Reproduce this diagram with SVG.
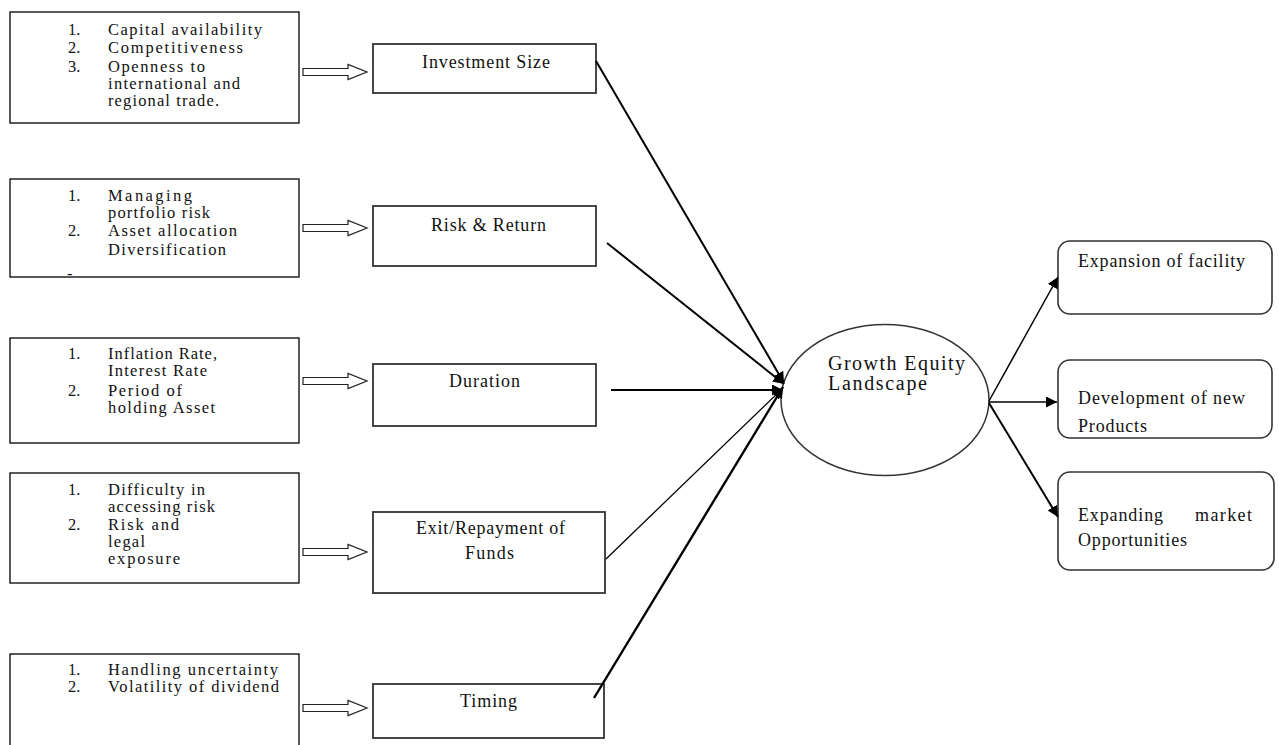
<svg xmlns="http://www.w3.org/2000/svg" width="1279" height="745" viewBox="0 0 1279 745">
<style>
text{font-family:"Liberation Serif","Times New Roman",serif;font-size:18px;fill:#111;}
.sm{font-size:16.5px;}
.big{font-size:20px;}
.lb{fill:#fff;stroke:#000;stroke-width:1.3;}
.mb{fill:#fff;stroke:#333;stroke-width:1.8;}
.rb{fill:#fff;stroke:#333;stroke-width:1.6;}
.ha{fill:#fff;stroke:#222;stroke-width:1.2;}
.cn{stroke:#000;fill:none;}
</style>
<defs>
<marker id="ah" viewBox="0 0 10 10" refX="10" refY="5" markerWidth="11" markerHeight="11" markerUnits="userSpaceOnUse" orient="auto">
<path d="M0,0 L10,5 L0,10 Z" fill="#000"/>
</marker>
</defs>

<g id="factor1" class="sm">
<rect class="lb" x="10" y="12" width="289" height="111"/>
<text class="sm" x="68" y="35">1.</text><text class="sm" x="108" y="35" textLength="154" lengthAdjust="spacing">Capital availability</text>
<text class="sm" x="68" y="53">2.</text><text class="sm" x="108" y="53" textLength="135" lengthAdjust="spacing">Competitiveness</text>
<text class="sm" x="68" y="72">3.</text><text class="sm" x="108" y="72" textLength="97" lengthAdjust="spacing">Openness to</text>
<text class="sm" x="108" y="89" textLength="132" lengthAdjust="spacing">international and</text>
<text class="sm" x="108" y="106" textLength="111" lengthAdjust="spacing">regional trade.</text>
</g>
<g id="factor2">
<rect class="lb" x="10" y="179" width="289" height="98"/>
<text class="sm" x="68" y="201">1.</text><text class="sm" x="108" y="201" textLength="84" lengthAdjust="spacing">Managing</text>
<text class="sm" x="108" y="218" textLength="102" lengthAdjust="spacing">portfolio risk</text>
<text class="sm" x="68" y="236">2.</text><text class="sm" x="108" y="236" textLength="129" lengthAdjust="spacing">Asset allocation</text>
<text class="sm" x="108" y="255" textLength="118" lengthAdjust="spacing">Diversification</text>
<text class="sm" x="67" y="279">-</text>
</g>
<g id="factor3">
<rect class="lb" x="10" y="338" width="289" height="105"/>
<text class="sm" x="68" y="359">1.</text><text class="sm" x="108" y="359" textLength="109" lengthAdjust="spacing">Inflation Rate,</text>
<text class="sm" x="108" y="376" textLength="99" lengthAdjust="spacing">Interest Rate</text>
<text class="sm" x="68" y="396">2.</text><text class="sm" x="108" y="396" textLength="74" lengthAdjust="spacing">Period of</text>
<text class="sm" x="108" y="413" textLength="107" lengthAdjust="spacing">holding Asset</text>
</g>
<g id="factor4">
<rect class="lb" x="10" y="473" width="289" height="110"/>
<text class="sm" x="68" y="495">1.</text><text class="sm" x="108" y="495" textLength="97" lengthAdjust="spacing">Difficulty in</text>
<text class="sm" x="108" y="512" textLength="107" lengthAdjust="spacing">accessing risk</text>
<text class="sm" x="68" y="530">2.</text><text class="sm" x="108" y="530" textLength="71" lengthAdjust="spacing">Risk and</text>
<text class="sm" x="108" y="547" textLength="37" lengthAdjust="spacing">legal</text>
<text class="sm" x="108" y="564" textLength="72" lengthAdjust="spacing">exposure</text>
</g>
<g id="factor5">
<rect class="lb" x="10" y="654" width="289" height="100"/>
<text class="sm" x="68" y="675">1.</text><text class="sm" x="108" y="675" textLength="170" lengthAdjust="spacing">Handling uncertainty</text>
<text class="sm" x="68" y="692">2.</text><text class="sm" x="108" y="692" textLength="171" lengthAdjust="spacing">Volatility of dividend</text>
</g>

<g id="investment-size">
<rect class="mb" x="373" y="44" width="223" height="49"/>
<text x="422" y="68" textLength="128" lengthAdjust="spacing">Investment Size</text>
</g>
<g id="risk-return">
<rect class="mb" x="373" y="206" width="223" height="60"/>
<text x="431" y="231" textLength="115" lengthAdjust="spacing">Risk &amp; Return</text>
</g>
<g id="duration">
<rect class="mb" x="373" y="364" width="223" height="62"/>
<text x="449" y="387" textLength="71" lengthAdjust="spacing">Duration</text>
</g>
<g id="exit">
<rect class="mb" x="373" y="512" width="232" height="81"/>
<text x="416" y="534" textLength="149" lengthAdjust="spacing">Exit/Repayment of</text>
<text x="465" y="559" textLength="49" lengthAdjust="spacing">Funds</text>
</g>
<g id="timing">
<rect class="mb" x="373" y="684" width="231" height="54"/>
<text x="460" y="707" textLength="57" lengthAdjust="spacing">Timing</text>
</g>

<g id="growth-equity">
<ellipse cx="885" cy="400" rx="104" ry="75.5" fill="#fff" stroke="#333" stroke-width="1.5"/>
<text class="big" x="828" y="370" textLength="137" lengthAdjust="spacing">Growth Equity</text>
<text class="big" x="828" y="390" textLength="99" lengthAdjust="spacing">Landscape</text>
</g>

<g id="expansion">
<rect class="rb" x="1058" y="241" width="214" height="73" rx="12"/>
<text x="1078" y="267" textLength="167" lengthAdjust="spacing">Expansion of facility</text>
</g>
<g id="development">
<rect class="rb" x="1058" y="360" width="214" height="78" rx="12"/>
<text x="1078" y="404" textLength="167" lengthAdjust="spacing">Development of new</text>
<text x="1078" y="432" textLength="69" lengthAdjust="spacing">Products</text>
</g>
<g id="expanding">
<rect class="rb" x="1058" y="472" width="216" height="98" rx="12"/>
<text x="1078" y="521" textLength="85" lengthAdjust="spacing">Expanding</text>
<text x="1195" y="521" textLength="57" lengthAdjust="spacing">market</text>
<text x="1078" y="546" textLength="109" lengthAdjust="spacing">Opportunities</text>
</g>

<g id="connectors">
<path class="ha" d="M303,68.5 H348 V64.5 L367,72 L348,79.5 V75.5 H303 Z"/>
<path class="ha" d="M303,224.5 H348 V220.5 L367,228 L348,235.5 V231.5 H303 Z"/>
<path class="ha" d="M303,377.5 H348 V373.5 L367,381 L348,388.5 V384.5 H303 Z"/>
<path class="ha" d="M303,548.5 H348 V544.5 L367,552 L348,559.5 V555.5 H303 Z"/>
<path class="ha" d="M303,704.5 H348 V700.5 L367,708 L348,715.5 V711.5 H303 Z"/>
<line class="cn" x1="596" y1="61" x2="784" y2="383" stroke-width="2" marker-end="url(#ah)"/>
<line class="cn" x1="607" y1="243" x2="784" y2="384" stroke-width="2" marker-end="url(#ah)"/>
<line class="cn" x1="611" y1="390" x2="783" y2="390" stroke-width="2" marker-end="url(#ah)"/>
<line class="cn" x1="606" y1="559" x2="783" y2="388" stroke-width="1.3" marker-end="url(#ah)"/>
<line class="cn" x1="594" y1="698" x2="783" y2="387" stroke-width="2.4" marker-end="url(#ah)"/>
<line class="cn" x1="989" y1="401" x2="1058" y2="277" stroke-width="1.5" marker-end="url(#ah)"/>
<line class="cn" x1="989" y1="402" x2="1057" y2="402" stroke-width="1.5" marker-end="url(#ah)"/>
<line class="cn" x1="989" y1="403" x2="1058" y2="517" stroke-width="2" marker-end="url(#ah)"/>
</g>
</svg>
